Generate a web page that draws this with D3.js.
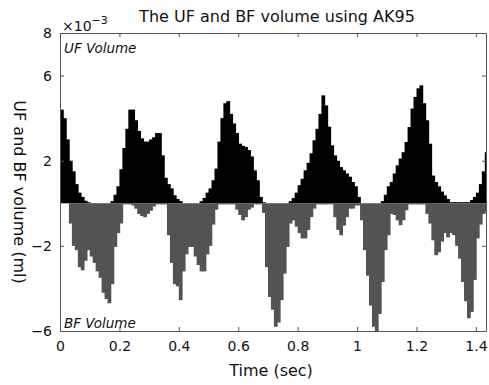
<!DOCTYPE html>
<html>
<head>
<meta charset="utf-8">
<title>UF and BF volume</title>
<script src="https://d3js.org/d3.v7.min.js"></script>
<style type="text/css">
body { margin: 0; background: #fff; }
text { font-family: "DejaVu Sans", sans-serif; fill: #111; }
.axis path, .axis line { stroke: #555; }
</style>
</head>
<body>
<div id="chart"></div>
<script>
// sample step (sec) and the two volume series (x 1e-3 ml), one value per bar
var dt = 0.01;
var ufVolume = [
  4.4, 4.0, 3.0, 2.0, 1.5, 0.9, 0.5, 0.3, 0.12, 0.05,
  0, 0, 0, 0, 0, 0, 0, 0.1, 0.4, 0.8,
  1.6, 2.6, 3.5, 4.4, 4.4, 3.9, 3.4, 3.05, 2.9, 2.9,
  3.0, 3.1, 3.3, 3.3, 2.25, 1.2, 0.9, 0.7, 0.38, 0.2,
  0.1, 0, 0, 0, 0, 0, 0, 0.1, 0.25, 0.5,
  0.7, 1.08, 1.63, 2.9, 4.0, 4.7, 4.8, 4.2, 3.75, 3.3,
  2.8, 2.7, 2.65, 2.5, 2.2, 1.55, 1.08, 0.3, 0.05, 0,
  0, 0, 0, 0, 0, 0, 0, 0.1, 0.25, 0.5,
  0.85, 1.15, 1.55, 1.9, 2.35, 2.96, 3.5, 4.2, 5.07, 4.6,
  3.6, 2.72, 2.25, 2.0, 1.7, 1.55, 1.4, 1.25, 1.0, 0.8,
  0.3, 0, 0, 0, 0, 0, 0, 0, 0.1, 0.4,
  0.8, 1.0, 1.4, 1.78, 2.1, 2.4, 2.88, 3.58, 4.45, 5.0,
  5.4, 5.54, 4.7, 3.9, 2.8, 1.3, 1.0, 0.8, 0.55, 0.37,
  0.2, 0.05, 0.05, 0.05, 0.05, 0.05, 0.05, 0.05, 0.15, 0.3,
  0.5, 0.9, 1.5, 2.4
];
var bfVolume = [
  0, 0, 0, -0.95, -2.0, -2.2, -3.0, -3.15, -2.7, -2.2,
  -2.5, -2.8, -3.2, -3.5, -4.2, -4.5, -4.7, -3.8, -2.05, -1.4,
  -0.95, -0.05, -0.05, -0.05, -0.1, -0.25, -0.5, -0.6, -0.65, -0.5,
  -0.35, -0.15, -0.05, -0.05, -0.05, -0.05, -1.5, -2.8, -3.8, -3.9,
  -4.55, -3.2, -2.4, -2.05, -2.05, -2.5, -2.9, -3.2, -3.2, -2.4,
  -2.0, -1.0, -0.3, -0.05, -0.05, -0.05, -0.05, -0.05, -0.05, -0.3,
  -0.55, -0.8, -0.65, -0.3, -0.2, -0.05, -0.05, -0.05, -0.45, -3.0,
  -4.4, -5.0, -5.8, -5.6, -4.55, -3.3, -2.05, -0.95, -0.8, -1.1,
  -1.4, -1.65, -1.65, -1.25, -0.65, -0.25, -0.05, -0.05, -0.05, -0.05,
  -0.05, -0.05, -0.65, -1.25, -1.5, -1.05, -0.65, -0.25, -0.25, -0.1,
  -0.1, -0.8, -2.2, -3.4, -4.8, -5.8, -6.2, -5.2, -3.7, -2.2,
  -1.5, -0.5, -0.55, -0.8, -1.03, -0.8, -0.33, -0.05, -0.05, -0.05,
  -0.05, -0.05, -0.05, -0.5, -0.95, -1.74, -2.44, -2.3, -1.8, -1.4,
  -1.6, -1.4, -1.5, -2.0, -2.6, -3.7, -4.6, -5.4, -5.1, -3.6,
  -1.65, -1.0, -0.5, -0.4
];
var xTicks = [0, 0.2, 0.4, 0.6, 0.8, 1, 1.2, 1.4];
var yTicks = [-6, -2, 2, 6, 8];

var width = 489, height = 385;
var margin = {top: 33, right: 3, bottom: 54, left: 60};

var svg = d3.select("#chart")
  .append("svg")
    .attr("width", width)
    .attr("height", height);

var x = d3.scaleLinear()
  .domain([0, 1.434])
  .range([margin.left, width - margin.right]);

var y = d3.scaleLinear()
  .domain([-6, 8])
  .range([height - margin.bottom, margin.top]);

svg.append("clipPath")
    .attr("id", "plotclip")
  .append("rect")
    .attr("x", x(0))
    .attr("y", y(8))
    .attr("width", x(1.434) - x(0))
    .attr("height", y(-6) - y(8));

var plot = svg.append("g").attr("clip-path", "url(#plotclip)");
var bw = x(dt) - x(0);

// UF bars, black, above zero
plot.append("g")
  .selectAll("rect")
  .data(ufVolume)
  .enter()
  .append("rect")
    .attr("x", function(d, i) { return x(i * dt); })
    .attr("y", function(d) { return y(d); })
    .attr("width", bw + 0.8)
    .attr("height", function(d) { return y(0) - y(d); })
    .style("fill", "#000");

// BF bars, grey, below zero
plot.append("g")
  .selectAll("rect")
  .data(bfVolume)
  .enter()
  .append("rect")
    .attr("x", function(d, i) { return x(i * dt); })
    .attr("y", y(0))
    .attr("width", bw + 0.8)
    .attr("height", function(d) { return y(d) - y(0); })
    .style("fill", "#535353");

// axes box with inward ticks
var fmt = function(d) { return d < 0 ? "\u2212" + Math.abs(d) : String(d); };

svg.append("g")
  .attr("class", "axis")
  .attr("transform", "translate(0," + y(-6) + ")")
  .call(d3.axisBottom(x).tickValues(xTicks).tickSizeInner(-4).tickSizeOuter(0).tickPadding(10).tickFormat(fmt))
  .call(function(g) { g.selectAll("text").style("font-size", "14px").attr("dy", "0.71em"); });

svg.append("g")
  .attr("class", "axis")
  .attr("transform", "translate(0," + y(8) + ")")
  .call(d3.axisTop(x).tickValues(xTicks).tickSizeInner(-4).tickSizeOuter(0).tickFormat(""));

svg.append("g")
  .attr("class", "axis")
  .attr("transform", "translate(" + x(0) + ",0)")
  .call(d3.axisLeft(y).tickValues(yTicks).tickSizeInner(-4).tickSizeOuter(0).tickPadding(8).tickFormat(fmt))
  .call(function(g) { g.selectAll("text").style("font-size", "14px"); });

svg.append("g")
  .attr("class", "axis")
  .attr("transform", "translate(" + x(1.434) + ",0)")
  .call(d3.axisRight(y).tickValues(yTicks).tickSizeInner(-4).tickSizeOuter(0).tickFormat(""));

svg.selectAll(".axis .domain").style("stroke", "#555").style("stroke-width", 1);

// texts
svg.append("text")
  .attr("x", 277)
  .attr("y", 22)
  .attr("text-anchor", "middle")
  .style("font-size", "16px")
  .text("The UF and BF volume using AK95");

var ex = svg.append("text")
  .attr("x", 62)
  .attr("y", 31)
  .style("font-size", "14px");
ex.append("tspan").text("\u00d710");
ex.append("tspan").attr("dy", -7).style("font-size", "11px").text("\u22123");

svg.append("text")
  .attr("x", 64)
  .attr("y", 53)
  .style("font-size", "13.5px")
  .style("font-style", "italic")
  .text("UF Volume");

svg.append("text")
  .attr("x", 64)
  .attr("y", 328)
  .style("font-size", "13.5px")
  .style("font-style", "italic")
  .text("BF Volume");

svg.append("text")
  .attr("text-anchor", "middle")
  .attr("transform", "translate(" + 271 + "," + 376 + ")")
  .style("font-size", "16px")
  .text("Time (sec)");

svg.append("text")
  .attr("text-anchor", "middle")
  .attr("transform", "translate(" + 14 + "," + 192 + ")rotate(90)")
  .style("font-size", "16px")
  .text("UF and BF volume (ml)");
</script>
</body>
</html>
